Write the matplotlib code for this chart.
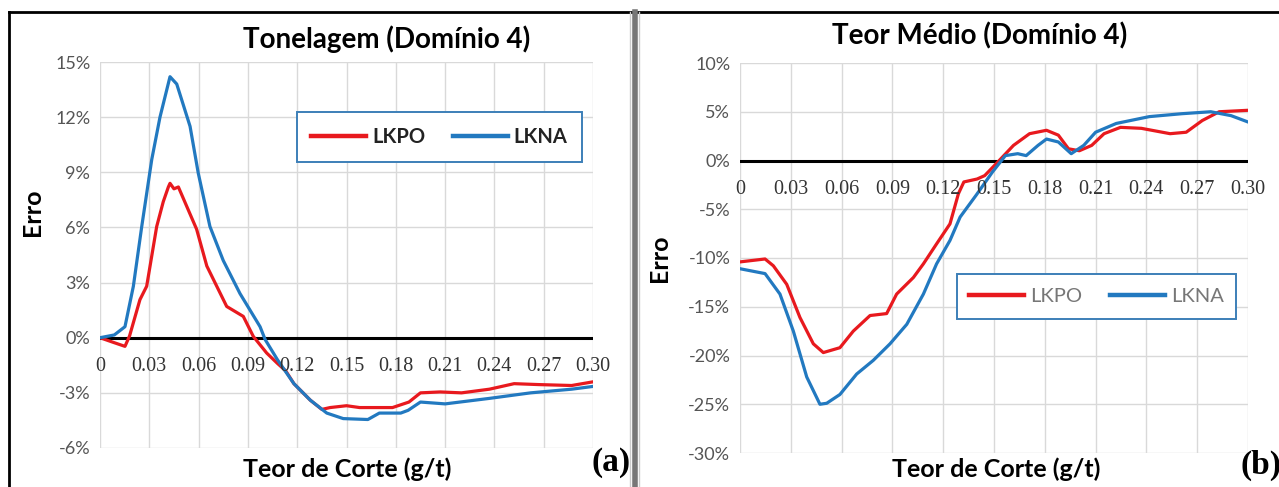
import matplotlib
matplotlib.use('Agg')
import matplotlib.pyplot as plt
from matplotlib.lines import Line2D
from matplotlib.patches import Rectangle
from matplotlib.ticker import FuncFormatter

# ---- dados: Tonelagem (Domínio 4) ----
ton_x_lkpo = [0, 0.008, 0.0152, 0.018, 0.0243, 0.0284, 0.0345, 0.0385, 0.0416, 0.0426, 0.045,
              0.0477, 0.0588, 0.065, 0.0771, 0.0872, 0.0933, 0.1014, 0.108, 0.113, 0.118,
              0.128, 0.135, 0.14, 0.15, 0.158, 0.178, 0.188, 0.195, 0.207, 0.22,
              0.237, 0.252, 0.267, 0.287, 0.30]
ton_lkpo = [0, -0.25, -0.47, 0.1, 2.07, 2.8, 6.05, 7.4, 8.2, 8.4, 8.1,
            8.2, 5.9, 3.9, 1.7, 1.16, 0.07, -0.83, -1.4, -1.8, -2.5,
            -3.4, -3.9, -3.8, -3.7, -3.8, -3.8, -3.5, -3.0, -2.95, -3.0,
            -2.8, -2.5, -2.55, -2.6, -2.4]
ton_x_lkna = [0, 0.0087, 0.0152, 0.0203, 0.0254, 0.0315, 0.0365, 0.0426, 0.0467, 0.0548,
              0.0598, 0.0669, 0.075, 0.0852, 0.0974, 0.1005, 0.108, 0.118, 0.128, 0.138,
              0.148, 0.163, 0.17, 0.183, 0.1875, 0.195, 0.21, 0.237, 0.262, 0.287, 0.30]
ton_lkna = [0, 0.15, 0.6, 2.8, 6.05, 9.7, 12.0, 14.2, 13.8, 11.5,
            8.95, 6.05, 4.2, 2.4, 0.6, -0.1, -1.2, -2.5, -3.4, -4.1,
            -4.4, -4.45, -4.1, -4.1, -3.95, -3.5, -3.6, -3.3, -3.0, -2.8, -2.65]

# ---- dados: Teor Médio (Domínio 4) ----
teor_x_lkpo = [0, 0.0148, 0.0197, 0.0276, 0.0354, 0.0433, 0.0492, 0.059, 0.0669, 0.0768,
               0.0866, 0.0925, 0.1024, 0.1083, 0.1161, 0.124, 0.129, 0.1322, 0.140, 0.1445,
               0.152, 0.1615, 0.171, 0.181, 0.188, 0.194, 0.2004, 0.2077, 0.215, 0.2247,
               0.237, 0.254, 0.2635, 0.273, 0.283, 0.30]
teor_lkpo = [-10.4, -10.1, -10.8, -12.7, -16.1, -18.8, -19.7, -19.2, -17.5, -15.9,
             -15.7, -13.7, -12.0, -10.6, -8.55, -6.5, -3.4, -2.2, -1.9, -1.55,
             -0.2, 1.55, 2.75, 3.1, 2.6, 1.2, 1.0, 1.55, 2.75, 3.4,
             3.3, 2.75, 2.9, 4.1, 5.0, 5.15]
teor_x_lkna = [0, 0.0148, 0.0236, 0.0315, 0.0394, 0.0472, 0.0512, 0.059, 0.0689, 0.0787,
               0.0886, 0.0985, 0.1083, 0.1161, 0.124, 0.13, 0.1397, 0.149, 0.1567, 0.164,
               0.169, 0.176, 0.181, 0.188, 0.1956, 0.203, 0.210, 0.2222, 0.2417, 0.261,
               0.278, 0.290, 0.30]
teor_lkna = [-11.1, -11.6, -13.7, -17.5, -22.2, -25.0, -24.9, -24.0, -21.9, -20.5,
             -18.8, -16.8, -13.7, -10.6, -8.2, -5.8, -3.5, -1.2, 0.5, 0.7,
             0.5, 1.55, 2.2, 1.9, 0.7, 1.55, 2.9, 3.8, 4.5, 4.8,
             5.0, 4.6, 3.95]

x_ticks = [0, 0.03, 0.06, 0.09, 0.12, 0.15, 0.18, 0.21, 0.24, 0.27, 0.30]
x_tick_labels = ['0', '0.03', '0.06', '0.09', '0.12', '0.15', '0.18', '0.21', '0.24', '0.27', '0.30']

RED = '#E8191E'
BLUE = '#2279C0'
SANS = ['Lato', 'DejaVu Sans']
SERIF = ['Liberation Serif', 'DejaVu Serif']

fig = plt.figure(figsize=(12.79, 4.87), dpi=100)
W, H = 1279, 487


def fx(px):
    return px / W


def fy(py):
    return 1 - py / H


def painel(rect, xa, ya, xb, yb, ylim, yticks, titulo, leg_px, leg_bold,
           title_xy, ylab_xy, xlab_xy):
    ax = fig.add_axes(rect)
    ax.plot(xa, ya, color=RED, lw=2.3, label='LKPO', zorder=3)
    ax.plot(xb, yb, color=BLUE, lw=2.3, label='LKNA', zorder=3)
    ax.axhline(0, color='black', lw=2.2, zorder=2)
    ax.set_xlim(0, 0.30)
    ax.set_ylim(*ylim)
    ax.set_yticks(yticks)
    ax.yaxis.set_major_formatter(FuncFormatter(lambda v, p: '%d%%' % round(v)))
    ax.set_xticks(x_ticks)
    ax.set_xticklabels([])
    ax.grid(True, color='#d9d9d9', lw=1)
    ax.set_axisbelow(True)
    for s in ax.spines.values():
        s.set_visible(False)
    ax.tick_params(axis='both', length=0)
    ax.tick_params(axis='y', pad=7, labelsize=13, labelcolor='#555555')
    for lab in ax.get_yticklabels():
        lab.set_fontfamily(SANS)
    # rótulos do eixo x logo abaixo da linha do zero (estilo Excel)
    for xv, txt in zip(x_ticks, x_tick_labels):
        ax.annotate(txt, (xv, 0), xytext=(0, -21), textcoords='offset points',
                    ha='center', va='center', family=SERIF, fontsize=14.5, color='#333333',
                    annotation_clip=False)

    # legenda com moldura azul
    x0, y0, x1, y1 = leg_px
    ax.add_patch(Rectangle((fx(x0), fy(y1)), fx(x1 - x0), (y1 - y0) / H,
                           facecolor='white', edgecolor='#3C7FB8', lw=1.4,
                           transform=fig.transFigure, zorder=5, clip_on=False))
    leg = ax.legend(loc='center', bbox_to_anchor=(fx((x0 + x1) / 2), fy((y0 + y1) / 2)),
                    bbox_transform=fig.transFigure, ncol=2, frameon=False,
                    handlelength=2.7, handletextpad=0.3, columnspacing=1.4,
                    prop={'family': SANS, 'size': 14.5, 'weight': 'bold' if leg_bold else 'normal'})
    leg.set_zorder(6)
    for t in leg.get_texts():
        t.set_color('#222222' if leg_bold else '#777777')
    for l in leg.get_lines():
        l.set_linewidth(3.2)

    fig.text(fx(title_xy[0]), fy(title_xy[1]), titulo, family=SANS, fontsize=20,
             fontweight='bold', ha='center', va='center')
    fig.text(fx(ylab_xy[0]), fy(ylab_xy[1]), 'Erro', family=SANS, fontsize=18,
             fontweight='bold', rotation=90, ha='center', va='center')
    fig.text(fx(xlab_xy[0]), fy(xlab_xy[1]), 'Teor de Corte (g/t)', family=SANS,
             fontsize=18, fontweight='bold', ha='center', va='center')
    return ax


painel([fx(100), fy(448), fx(493), 386 / H], ton_x_lkpo, ton_lkpo, ton_x_lkna, ton_lkna,
       (-6, 15), [-6, -3, 0, 3, 6, 9, 12, 15], 'Tonelagem (Domínio 4)',
       (297, 112, 582, 162), True, (387, 39), (32, 212), (347, 469))
fig.text(fx(611), fy(463), '(a)', family=SERIF, fontsize=24, fontweight='bold',
         ha='center', va='center')

painel([fx(740), fy(453), fx(508), 390 / H], teor_x_lkpo, teor_lkpo, teor_x_lkna, teor_lkna,
       (-30, 10), [-30, -25, -20, -15, -10, -5, 0, 5, 10], 'Teor Médio (Domínio 4)',
       (957, 274, 1236, 319), False, (980, 36), (659, 258), (996, 469))
fig.text(fx(1261), fy(465), '(b)', family=SERIF, fontsize=24, fontweight='bold',
         ha='center', va='center')

# molduras dos painéis
fig.add_artist(Line2D([fx(9), fx(9)], [0, fy(12)], color='black', lw=2))
fig.add_artist(Line2D([fx(9), 1], [fy(12), fy(12)], color='black', lw=2))
fig.add_artist(Line2D([fx(634.5), fx(634.5)], [0, fy(12)], color='#777777', lw=4))
fig.add_artist(Line2D([fx(630), fx(630)], [0, fy(12)], color='#cccccc', lw=1))
fig.add_artist(Line2D([fx(639), fx(639)], [0, fy(12)], color='#cccccc', lw=1))

fig.savefig('out.png', dpi=100)
